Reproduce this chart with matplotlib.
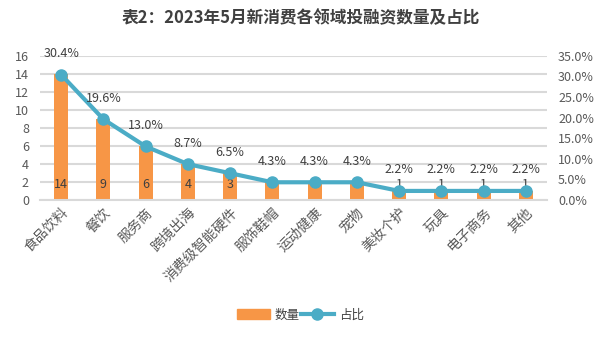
import numpy as np
import matplotlib.pyplot as plt
from matplotlib.patches import Patch
from matplotlib.lines import Line2D
from matplotlib.ticker import FuncFormatter

plt.rcParams['font.family'] = ['Noto Sans CJK SC', 'DejaVu Sans']

# data
categories = ['食品饮料', '餐饮', '服务商', '跨境出海', '消费级智能硬件', '服饰鞋帽',
              '运动健康', '宠物', '美妆个护', '玩具', '电子商务', '其他']
counts = [14, 9, 6, 4, 3, 2, 2, 2, 1, 1, 1, 1]
shares = [30.4, 19.6, 13.0, 8.7, 6.5, 4.3, 4.3, 4.3, 2.2, 2.2, 2.2, 2.2]

bar_color = '#F79646'
line_color = '#4BACC6'
grid_color = '#D9D9D9'
tick_color = '#595959'
label_color = '#404040'

fig = plt.figure(figsize=(6.01, 3.38), dpi=100)
ax = fig.add_axes([40/601, 1-200/338, 507/601, 144.3/338])
ax2 = ax.twinx()

x = np.arange(len(categories))
ax.bar(x, counts, width=0.33, color=bar_color, zorder=2)
ax.set_ylim(0, 16)
ax.set_yticks(np.arange(0, 17, 2))
ax.set_xlim(-0.5, len(categories) - 0.5)
ax.grid(axis='y', color=grid_color, linewidth=1.5, zorder=0)
ax.set_axisbelow(True)

ax2.plot(x, shares, color=line_color, linewidth=3, marker='o', markersize=8, zorder=3)
ax2.set_ylim(0, 35)
ax2.set_yticks(np.arange(0, 36, 5))
ax2.yaxis.set_major_formatter(FuncFormatter(lambda v, p: f'{v:.1f}%'))

for a in (ax, ax2):
    for s in a.spines.values():
        s.set_visible(False)
    a.tick_params(length=0, labelsize=9, colors=tick_color)
ax.spines['bottom'].set_visible(True)
ax.spines['bottom'].set_color(grid_color)
ax.spines['bottom'].set_linewidth(1.5)
ax.tick_params(axis='y', pad=8)
ax2.tick_params(axis='y', pad=8)

ax.set_xticks(x)
ax.set_xticklabels(categories, rotation=45, ha='right', rotation_mode='anchor',
                   fontsize=10, color=tick_color)
ax.tick_params(axis='x', pad=4)

# data labels
for xi, c in zip(x, counts):
    ax.annotate(str(c), (xi, 0), xytext=(0, 16), textcoords='offset pixels',
                ha='center', va='center', fontsize=9, color=label_color, zorder=5)
for xi, s in zip(x, shares):
    ax2.annotate(f'{s:.1f}%', (xi, s), xytext=(0, 21), textcoords='offset pixels',
                 ha='center', va='center', fontsize=9, color=label_color)

fig.text(0.5, 1-18/338, '表2：2023年5月新消费各领域投融资数量及占比', ha='center', va='center',
         fontsize=12, fontweight='bold', color=label_color)

handles = [Patch(color=bar_color, label='数量'),
           Line2D([], [], color=line_color, linewidth=3, marker='o', markersize=8, label='占比')]
fig.legend(handles=handles, loc='center', bbox_to_anchor=(0.5, 1-315/338), ncol=2,
           frameon=False, fontsize=9, labelcolor=label_color, handlelength=2.6,
           handletextpad=0.4, columnspacing=0.1, handleheight=0.8)

fig.savefig('out.png', dpi=100)
